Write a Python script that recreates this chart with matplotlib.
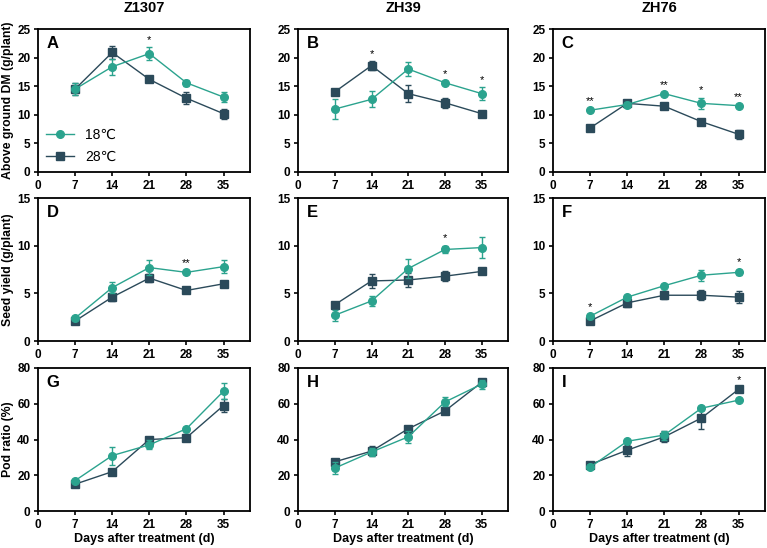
import matplotlib
matplotlib.use("Agg")
import matplotlib.pyplot as plt
from matplotlib.lines import Line2D

plt.rcParams['font.family'] = ['Liberation Sans', 'DejaVu Sans']
plt.rcParams['font.weight'] = 'bold'

days = [7, 14, 21, 28, 35]
cultivars = ['Z1307', 'ZH39', 'ZH76']
letters = ['A', 'B', 'C', 'D', 'E', 'F', 'G', 'H', 'I']
ylabels = ['Above ground DM (g/plant)', 'Seed yield (g/plant)', 'Pod ratio (%)']
ylims = [25, 15, 80]
yticks = [[0, 5, 10, 15, 20, 25], [0, 5, 10, 15], [0, 20, 40, 60, 80]]

# 18 C means / sd per panel (A..I)
t18 = [
    [14.5, 18.4, 20.7, 15.6, 13.1],
    [11.0, 12.7, 18.0, 15.6, 13.7],
    [10.8, 11.8, 13.7, 12.0, 11.6],
    [2.4, 5.6, 7.7, 7.2, 7.8],
    [2.7, 4.2, 7.6, 9.6, 9.8],
    [2.6, 4.6, 5.8, 6.9, 7.2],
    [17, 31, 37, 46, 67],
    [24, 33, 41.5, 61, 71],
    [24.5, 39, 42.5, 57.5, 62],
]
e18 = [
    [1.0, 1.4, 1.1, 0.5, 0.8],
    [1.7, 1.4, 1.2, 0.3, 1.1],
    [0.3, 0.4, 0.3, 1.0, 0.3],
    [0.2, 0.6, 0.8, 0.2, 0.7],
    [0.6, 0.5, 1.0, 0.4, 1.1],
    [0.2, 0.1, 0.1, 0.6, 0.3],
    [1.0, 5.0, 2.5, 1.0, 4.5],
    [3.5, 2.5, 3.5, 2.5, 2.5],
    [1.0, 1.0, 2.5, 1.0, 0.5],
]
t28 = [
    [14.5, 20.9, 16.2, 12.9, 10.2],
    [14.0, 18.6, 13.7, 12.1, 10.2],
    [7.7, 12.0, 11.5, 8.8, 6.6],
    [2.1, 4.6, 6.6, 5.3, 6.0],
    [3.8, 6.3, 6.4, 6.8, 7.3],
    [2.1, 4.0, 4.8, 4.8, 4.6],
    [15, 22, 40, 41, 59],
    [27.5, 33.5, 46, 56, 72],
    [26, 34, 41.5, 52, 68],
]
e28 = [
    [1.0, 1.2, 0.5, 1.0, 0.9],
    [0.2, 0.8, 1.5, 0.9, 0.2],
    [0.3, 0.5, 0.2, 0.3, 0.8],
    [0.15, 0.4, 0.4, 0.15, 0.15],
    [0.1, 0.7, 0.7, 0.5, 0.1],
    [0.2, 0.4, 0.4, 0.5, 0.6],
    [1.0, 1.5, 1.0, 2.0, 3.5],
    [1.0, 3.0, 1.0, 1.0, 1.0],
    [1.0, 3.0, 3.0, 6.0, 1.5],
]
# significance marks: panel -> {day: label}
sig = [
    {21: '*'},
    {14: '*', 28: '*', 35: '*'},
    {7: '**', 21: '**', 28: '*', 35: '**'},
    {28: '**'},
    {28: '*'},
    {7: '*', 35: '*'},
    {},
    {},
    {35: '*'},
]

c18 = '#2ba38e'
c28 = '#2b4a5a'

fig = plt.figure(figsize=(7.67, 5.48), dpi=100)
lefts = [38, 298, 553]
widths = [212, 210, 212]
tops = [29, 198, 368]
H = 143

for k in range(9):
    r, c = k // 3, k % 3
    ax = fig.add_axes([lefts[c] / 767, 1 - (tops[r] + H) / 548, widths[c] / 767, H / 548])
    ax.errorbar(days, t18[k], yerr=e18[k], color=c18, marker='o', ms=5.5, lw=1,
                capsize=2.5, elinewidth=1, capthick=1, zorder=3)
    ax.errorbar(days, t28[k], yerr=e28[k], color=c28, marker='s', ms=5.5, lw=1,
                capsize=2.5, elinewidth=1, capthick=1, zorder=2)
    ymax = ylims[r]
    for d, s in sig[k].items():
        i = days.index(d)
        top = max(t18[k][i] + e18[k][i], t28[k][i] + e28[k][i])
        ax.text(d, top + ymax * 0.015, s, ha='center', va='bottom', fontsize=8, fontweight='normal')
    ax.set_xlim(0, 40)
    ax.set_ylim(0, ymax)
    ax.set_xticks([0, 7, 14, 21, 28, 35])
    ax.set_yticks(yticks[r])
    ax.tick_params(labelsize=8.5, width=1.2, length=3, pad=2.5)
    for sp in ax.spines.values():
        sp.set_linewidth(1.3)
    ax.text(0.04, 0.95, letters[k], transform=ax.transAxes, fontsize=12, fontweight='bold',
            va='top', ha='left')
    if c == 0:
        ax.set_ylabel(ylabels[r], fontsize=8.8, fontweight='bold', labelpad=2)
    if r == 0:
        ax.set_title(cultivars[c], fontsize=10.5, fontweight='bold', pad=12)
    if r == 2:
        ax.set_xlabel('Days after treatment (d)', fontsize=9, fontweight='bold', labelpad=2)
    if k == 0:
        handles = [Line2D([], [], color=c18, marker='o', ms=5.5, lw=1),
                   Line2D([], [], color=c28, marker='s', ms=5.5, lw=1)]
        ax.legend(handles, ['18\u2103', '28\u2103'], loc='lower left', frameon=False,
                  prop={'size': 10, 'weight': 'normal'}, handlelength=2.0,
                  borderaxespad=0.2, labelspacing=0.55, bbox_to_anchor=(0.0, 0.0))

fig.savefig('out.png', dpi=100)
